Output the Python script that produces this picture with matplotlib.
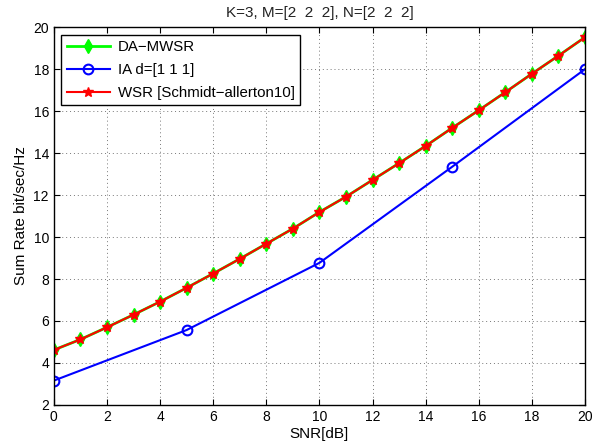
import numpy as np
import matplotlib.pyplot as plt

plt.rcParams['font.family'] = ['Liberation Sans', 'DejaVu Sans']

snr = np.arange(0, 21)
da_mwsr = [4.62, 5.12, 5.70, 6.30, 6.92, 7.58, 8.26, 8.96, 9.68, 10.40, 11.19,
           11.92, 12.72, 13.52, 14.34, 15.20, 16.04, 16.90, 17.78, 18.64, 19.52]
wsr = da_mwsr
snr_ia = [0, 5, 10, 15, 20]
ia = [3.16, 5.57, 8.77, 13.35, 18.0]

fig = plt.figure(figsize=(6.05, 4.45), dpi=100)
ax = fig.add_axes([0.089, 0.09, 0.878, 0.849])

ax.plot(snr, da_mwsr, color='#00ff00', lw=2, marker='d', ms=7,
        mfc='#00ff00', mec='#00ff00', label='DA\u2212MWSR')
ax.plot(snr_ia, ia, color='#0000ff', lw=1.5, marker='o', ms=7,
        mfc='none', mec='#0000ff', mew=1.5, label='IA d=[1 1 1]')
ax.plot(snr, wsr, color='#ff0000', lw=1.5, marker='*', ms=7,
        mfc='#ff0000', mec='#ff0000', label='WSR [Schmidt\u2212allerton10]')

ax.set_xlim(0, 20)
ax.set_ylim(2, 20)
ax.set_xticks(np.arange(0, 21, 2))
ax.set_yticks(np.arange(2, 21, 2))
ax.grid(True, ls=(0, (1, 3)), color='#777777', lw=0.7)
ax.tick_params(direction='in', labelsize=10, top=True, right=True, length=4)
for s in ax.spines.values():
    s.set_linewidth(1.0)

ax.set_xlabel('SNR[dB]', fontsize=11, labelpad=2)
ax.set_ylabel('Sum Rate bit/sec/Hz', fontsize=11, labelpad=4)
ax.set_title('K=3, M=[2  2  2], N=[2  2  2]', fontsize=11, pad=7, color='#222222')

leg = ax.legend(loc='upper left', fontsize=10.8, fancybox=False, framealpha=1,
                edgecolor='black', handlelength=2.9, borderaxespad=0.5,
                labelspacing=0.6, borderpad=0.35, handletextpad=0.5)
leg.get_frame().set_linewidth(1.0)

fig.savefig('out.png', dpi=100)
